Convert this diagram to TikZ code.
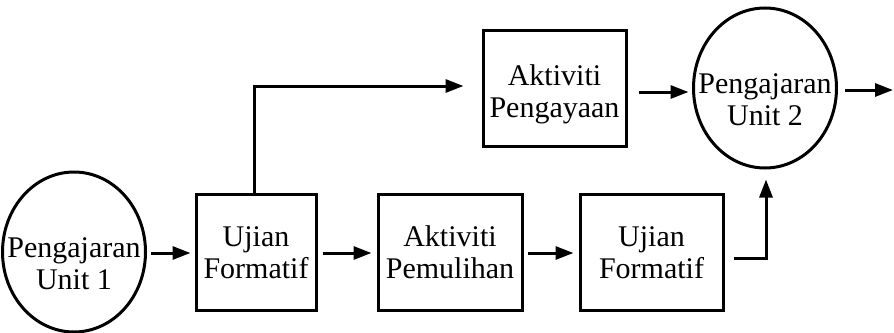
\documentclass[tikz,border=0pt]{standalone}
\usepackage{fontspec}
\setmainfont{Liberation Serif}
\usetikzlibrary{arrows.meta,shapes.geometric,calc}
\newcommand\twoline[3][-5.5pt]{\makebox[0pt]{\raisebox{#1}[0pt][0pt]{\begin{tabular}[t]{@{}c@{}}#2\\#3\end{tabular}}}}
\begin{document}
\begin{tikzpicture}[x=1pt,y=-1pt,
  every node/.style={font=\fontsize{30}{32}\selectfont, inner sep=0pt},
  box/.style={draw, rectangle, line width=3pt},
  oval/.style={draw, ellipse, line width=3pt, minimum width=143pt, minimum height=160pt},
  arr/.style={-{Triangle[length=18pt,width=13pt]}, line width=3pt}]
\useasboundingbox (0,0) rectangle (894,332);
\node[oval] (e1) at (74,252) {\twoline{Pengajaran}{Unit 1}};
\node[box, minimum width=120pt, minimum height=116pt] (b1) at (256,252) {\twoline[5.5pt]{Ujian}{Formatif}};
\node[box, minimum width=144pt, minimum height=116pt] (b2) at (450,252) {\twoline[6pt]{Aktiviti}{Pemulihan}};
\node[box, minimum width=143pt, minimum height=116pt] (b3) at (651.5,252) {\twoline[5.5pt]{Ujian}{Formatif}};
\node[box, minimum width=143pt, minimum height=116pt] (b4) at (554.5,88.5) {\twoline[3.5pt]{Aktiviti}{Pengayaan}};
\node[oval] (e2) at (765,88) {\twoline{Pengajaran}{Unit 2}};
\coordinate (out) at (893,90);
\draw[arr, shorten <=4pt, shorten >=4pt] ($(e1.east)+(0,1)$) -- ($(b1.west)+(0,1)$);
\draw[arr, shorten <=5pt, shorten >=5pt] ($(b1.east)+(0,1)$) -- ($(b2.west)+(0,1)$);
\draw[arr, shorten <=4pt, shorten >=5pt] ($(b2.east)+(0,1)$) -- ($(b3.west)+(0,1)$);
\draw[arr] ($(b3.east)+(9,6)$) -| ($(e2.south)+(1,10)$);
\draw[arr] ($(b1.north)+(-2,0)$) |- ($(b4.west)+(-18,-2.5)$);
\draw[arr] ($(b4.east)+(11,3.5)$) -- ($(b4.east)+(61,3.5)$);
\draw[arr] ($(e2.east)+(7,2)$) -- (out);
\end{tikzpicture}
\end{document}
